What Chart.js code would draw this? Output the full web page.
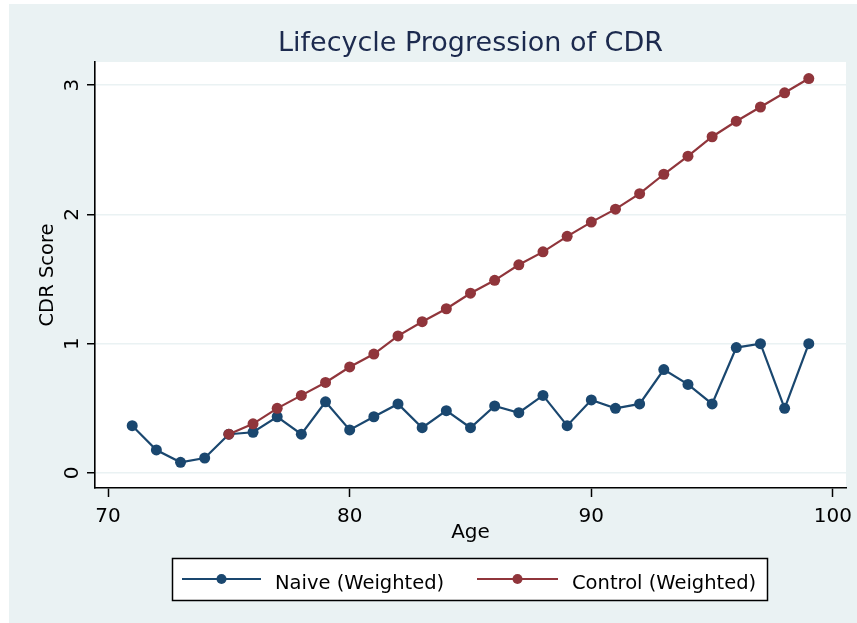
<!DOCTYPE html>
<html>
<head>
<meta charset="utf-8">
<script src="https://cdn.jsdelivr.net/npm/chart.js@4"></script>
<style>
html,body{margin:0;padding:0;background:#ffffff;}
#c{display:block;}
</style>
</head>
<body>
<canvas id="c" width="857" height="623"></canvas>
<script>
// ---- data ----
const naiveAges = [71,72,73,74,75,76,77,78,79,80,81,82,83,84,85,86,87,88,89,90,91,92,93,94,95,96,97,98,99];
const naiveValues = [0.366,0.178,0.083,0.116,0.30,0.315,0.435,0.30,0.55,0.333,0.435,0.534,0.35,0.482,0.35,0.518,0.466,0.60,0.366,0.565,0.50,0.534,0.80,0.685,0.534,0.97,1.0,0.50,1.0];
const controlAges = [75,76,77,78,79,80,81,82,83,84,85,86,87,88,89,90,91,92,93,94,95,96,97,98,99];
const controlValues = [0.30,0.38,0.50,0.60,0.70,0.82,0.92,1.06,1.17,1.27,1.39,1.49,1.61,1.71,1.83,1.94,2.04,2.16,2.31,2.45,2.60,2.72,2.83,2.94,3.05];
const xTicks = [70,80,90,100];
const yTicks = [0,1,2,3];
const seriesLabels = ['Naive (Weighted)','Control (Weighted)'];
const titleText = 'Lifecycle Progression of CDR';
const xTitle = 'Age';
const yTitle = 'CDR Score';

const NAVY = '#1A476F', MAROON = '#90353B', BG = '#EAF2F3';
const FONT = '"DejaVu Sans", sans-serif';

const toPts = (xs, ys) => xs.map((x,i)=>({x:x, y:ys[i]}));

const decor = {
  id: 'decor',
  beforeDraw(chart){
    const ctx = chart.ctx, a = chart.chartArea;
    ctx.save();
    ctx.fillStyle = '#ffffff';
    ctx.fillRect(0,0,chart.width,chart.height);
    ctx.fillStyle = BG;
    ctx.fillRect(9,4,chart.width-9,chart.height-4);
    ctx.fillStyle = '#ffffff';
    ctx.fillRect(a.left, a.top, a.right-a.left, a.bottom-a.top);
    ctx.restore();
  },
  afterDraw(chart){
    const ctx = chart.ctx, a = chart.chartArea;
    const xs = chart.scales.x, ys = chart.scales.y;
    const cx = (a.left + a.right)/2;
    ctx.save();
    // title
    ctx.fillStyle = '#1C2A4E';
    ctx.font = '27px ' + FONT;
    ctx.textAlign = 'center';
    ctx.textBaseline = 'alphabetic';
    ctx.fillText(titleText, cx, 51);
    // x tick labels
    ctx.fillStyle = '#000000';
    ctx.font = '20px ' + FONT;
    xTicks.forEach(v => ctx.fillText(String(v), xs.getPixelForValue(v), 522));
    // x title
    ctx.fillText(xTitle, cx, 537.5);
    // y tick labels (rotated)
    yTicks.forEach(v => {
      ctx.save();
      ctx.translate(78, ys.getPixelForValue(v));
      ctx.rotate(-Math.PI/2);
      ctx.fillText(String(v), 0, 0);
      ctx.restore();
    });
    // y title
    ctx.save();
    ctx.font = '19.5px ' + FONT;
    ctx.translate(53, (a.top + a.bottom)/2);
    ctx.rotate(-Math.PI/2);
    ctx.fillText(yTitle, 0, 0);
    ctx.restore();
    // legend
    const bx = 172, by = 558, bw = 595, bh = 42;
    ctx.fillStyle = '#ffffff';
    ctx.fillRect(bx, by, bw, bh);
    ctx.strokeStyle = '#000000';
    ctx.lineWidth = 1.5;
    ctx.strokeRect(bx+0.5, by+0.5, bw, bh);
    const items = [
      {color: NAVY, x1: 182, x2: 261, tx: 275, label: seriesLabels[0]},
      {color: MAROON, x1: 477, x2: 558, tx: 572, label: seriesLabels[1]}
    ];
    const ly = 579;
    items.forEach(it => {
      ctx.strokeStyle = it.color;
      ctx.lineWidth = 2.2;
      ctx.beginPath(); ctx.moveTo(it.x1, ly); ctx.lineTo(it.x2, ly); ctx.stroke();
      ctx.fillStyle = it.color;
      ctx.beginPath(); ctx.arc((it.x1+it.x2)/2, ly, 5, 0, Math.PI*2); ctx.fill();
      ctx.fillStyle = '#000000';
      ctx.font = '19.5px ' + FONT;
      ctx.textAlign = 'left';
      ctx.fillText(it.label, it.tx, 589);
    });
    ctx.restore();
  }
};

new Chart(document.getElementById('c'), {
  type: 'line',
  data: {
    datasets: [
      {
        label: seriesLabels[0],
        data: toPts(naiveAges, naiveValues),
        borderColor: NAVY, backgroundColor: NAVY,
        pointBackgroundColor: NAVY, pointBorderWidth: 0,
        pointRadius: 5.5, borderWidth: 2.2, tension: 0, fill: false, order: 1
      },
      {
        label: seriesLabels[1],
        data: toPts(controlAges, controlValues),
        borderColor: MAROON, backgroundColor: MAROON,
        pointBackgroundColor: MAROON, pointBorderWidth: 0,
        pointRadius: 5.5, borderWidth: 2.2, tension: 0, fill: false, order: 0
      }
    ]
  },
  options: {
    responsive: false,
    animation: false,
    devicePixelRatio: 1,
    layout: {padding: {top: 62, right: 11, left: 0, bottom: 0}},
    plugins: {legend: {display: false}, title: {display: false}, tooltip: {enabled: false}},
    scales: {
      x: {
        type: 'linear', min: 69.46, max: 100.54,
        afterBuildTicks(s){ s.ticks = xTicks.map(v => ({value: v})); },
        afterFit(s){ s.height = 135; },
        ticks: {display: false},
        grid: {drawOnChartArea: false, drawTicks: true, tickLength: 9, tickColor: '#000000', tickWidth: 1.5},
        border: {display: true, color: '#000000', width: 1.6}
      },
      y: {
        type: 'linear', min: -0.116, max: 3.178,
        afterBuildTicks(s){ s.ticks = yTicks.map(v => ({value: v})); },
        afterFit(s){ s.width = 95; },
        ticks: {display: false},
        grid: {drawOnChartArea: true, color: BG, lineWidth: 1.5, drawTicks: true, tickLength: 8, tickColor: '#000000', tickWidth: 1.5},
        border: {display: true, color: '#000000', width: 1.6}
      }
    }
  },
  plugins: [decor]
});
</script>
</body>
</html>
